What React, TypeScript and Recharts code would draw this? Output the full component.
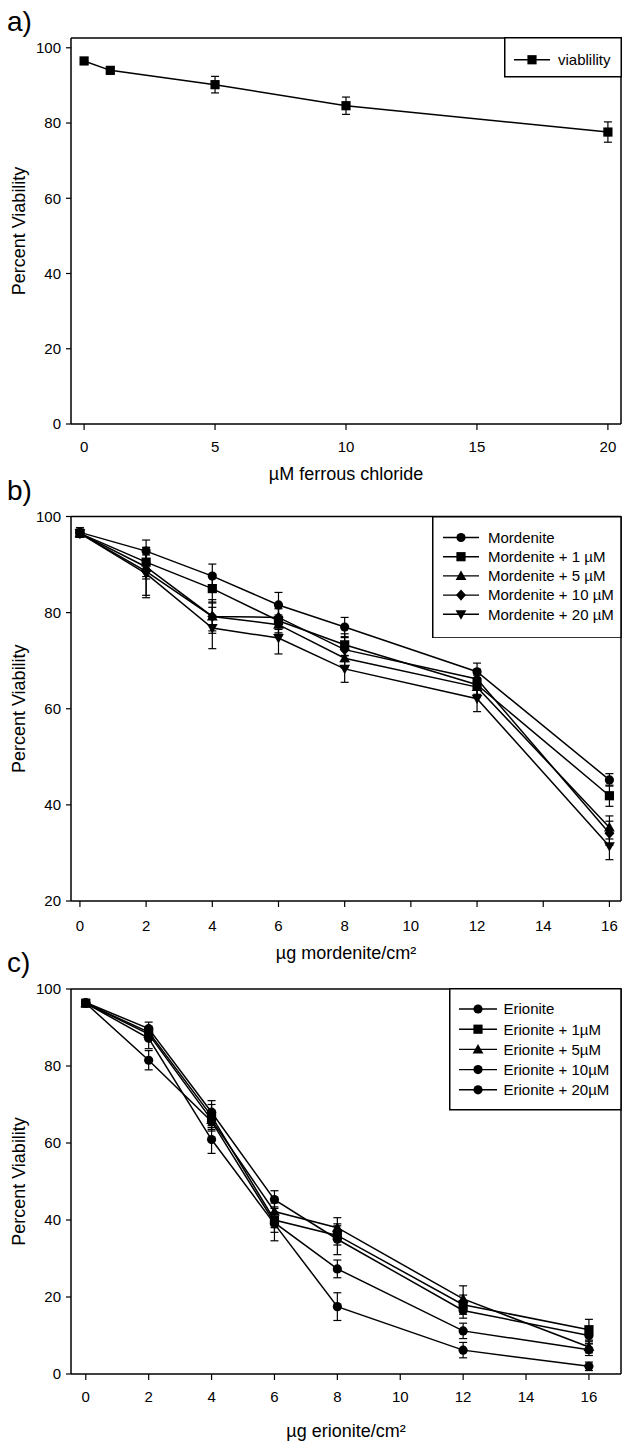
import React from "react";
import { LineChart, Line, XAxis, YAxis, ErrorBar, Legend, Label, ReferenceLine } from "recharts";

const FONT = '"Liberation Sans", Arial, sans-serif';

// a) ferrous chloride alone
const ironDose = [0, 1, 5, 10, 20];
const ironViability = [96.5, 94.0, 90.2, 84.6, 77.6];
const ironErr = [0.9, 0.9, 2.2, 2.3, 2.7];
const ironNames = ["viablility"];
const ironTicks = [0, 5, 10, 15, 20];

// b) and c) share the same fibre doses
const dose = [0, 2, 4, 6, 8, 12, 16];
const doseTicks = [0, 2, 4, 6, 8, 10, 12, 14, 16];
const viabilityTicksB = [20, 40, 60, 80, 100];
const viabilityTicks = [0, 20, 40, 60, 80, 100];

const mordNames = ["Mordenite", "Mordenite + 1 µM", "Mordenite + 5 µM", "Mordenite + 10 µM", "Mordenite + 20 µM"];
const mordenite = [96.7, 92.8, 87.6, 81.6, 77.0, 67.7, 45.2];
const mordenite1 = [96.5, 90.5, 85.0, 78.3, 73.3, 65.0, 41.9];
const mordenite5 = [96.5, 89.5, 79.2, 77.5, 70.5, 64.5, 35.3];
const mordenite10 = [96.5, 88.6, 79.2, 79.0, 72.3, 66.2, 34.1];
const mordenite20 = [96.5, 88.1, 76.8, 74.7, 68.3, 62.1, 31.4];
const mordeniteErr = [1.0, 2.3, 2.5, 2.6, 2.0, 1.8, 1.3];
const mordenite1Err = [0.8, 3.0, 3.0, 2.5, 2.3, 2.0, 2.2];
const mordenite5Err = [0.8, 2.5, 3.0, 2.0, 2.0, 2.0, 2.4];
const mordenite10Err = [0.8, 5.0, 3.5, 2.5, 2.5, 2.0, 2.5];
const mordenite20Err = [0.8, 5.0, 4.3, 3.3, 2.8, 2.7, 2.8];

const eriNames = ["Erionite", "Erionite + 1µM", "Erionite + 5µM", "Erionite + 10µM", "Erionite + 20µM"];
const erionite = [96.5, 89.7, 68.0, 45.3, 35.0, 16.5, 10.0];
const erionite1 = [96.3, 88.8, 67.0, 40.0, 36.0, 18.0, 11.5];
const erionite5 = [96.3, 88.3, 66.0, 42.2, 38.0, 19.5, 7.0];
const erionite10 = [96.3, 81.5, 65.6, 39.3, 27.3, 11.2, 6.3];
const erionite20 = [96.3, 87.2, 60.9, 39.0, 17.5, 6.2, 2.0];
const erioniteErr = [0.8, 1.7, 3.0, 2.3, 4.0, 2.0, 2.0];
const erionite1Err = [0.8, 1.5, 3.0, 2.0, 2.5, 2.5, 2.7];
const erionite5Err = [0.8, 1.5, 2.5, 2.2, 2.6, 3.4, 1.5];
const erionite10Err = [0.8, 2.5, 2.5, 2.5, 2.3, 2.0, 1.5];
const erionite20Err = [0.8, 2.7, 3.6, 4.4, 3.6, 2.0, 1.1];

type Shape = "circle" | "square" | "triangle" | "diamond" | "triangleDown";

function buildRows(xs: number[], series: number[][], errs: number[][]) {
  return xs.map((x, i) => {
    const row: Record<string, number> = { x };
    series.forEach((s, k) => {
      row["v" + k] = s[i];
      row["e" + k] = errs[k][i];
    });
    return row;
  });
}

const ironRows = buildRows(ironDose, [ironViability], [ironErr]);
const mordRows = buildRows(
  dose,
  [mordenite, mordenite1, mordenite5, mordenite10, mordenite20],
  [mordeniteErr, mordenite1Err, mordenite5Err, mordenite10Err, mordenite20Err]
);
const eriRows = buildRows(
  dose,
  [erionite, erionite1, erionite5, erionite10, erionite20],
  [erioniteErr, erionite1Err, erionite5Err, erionite10Err, erionite20Err]
);

function Marker({ cx, cy, shape }: { cx?: number; cy?: number; shape: Shape }) {
  if (cx == null || cy == null) return null;
  const s = 4.6;
  if (shape === "circle") return <circle cx={cx} cy={cy} r={s} fill="#000" />;
  if (shape === "square") return <rect x={cx - s} y={cy - s} width={2 * s} height={2 * s} fill="#000" />;
  if (shape === "diamond")
    return <polygon points={`${cx},${cy - 5.6} ${cx + 5},${cy} ${cx},${cy + 5.6} ${cx - 5},${cy}`} fill="#000" />;
  if (shape === "triangle")
    return <polygon points={`${cx},${cy - 5.4} ${cx + 5.4},${cy + 4} ${cx - 5.4},${cy + 4}`} fill="#000" />;
  return <polygon points={`${cx},${cy + 5.4} ${cx + 5.4},${cy - 4} ${cx - 5.4},${cy - 4}`} fill="#000" />;
}

interface LegendSpec {
  left: number;
  top: number;
  width: number;
  height: number;
  lineX1: number;
  lineX2: number;
  textX: number;
  firstY: number;
  stepY: number;
}

function LegendBox({ payload, names, shapes, spec }: { payload?: any[]; names: string[]; shapes: Shape[]; spec: LegendSpec }) {
  // keep the series order, recharts hands the payload over sorted by name
  const entries = payload && payload.length
    ? payload.map((p) => String(p.value)).sort((a, b) => names.indexOf(a) - names.indexOf(b))
    : names;
  return (
    <svg width={spec.width} height={spec.height} style={{ display: "block" }}>
      <rect x={0.75} y={0.75} width={spec.width - 1.5} height={spec.height - 1.5} fill="#fff" stroke="#000" strokeWidth={1.5} />
      {entries.map((name, i) => {
        const k = Math.max(0, names.indexOf(name));
        const y = spec.firstY + i * spec.stepY;
        const mx = (spec.lineX1 + spec.lineX2) / 2;
        return (
          <g key={name}>
            <line x1={spec.lineX1} x2={spec.lineX2} y1={y} y2={y} stroke="#000" strokeWidth={1.4} />
            <Marker cx={mx} cy={y} shape={shapes[k]} />
            <text x={spec.textX} y={y + 5.3} fontSize={15} fill="#000">
              {name}
            </text>
          </g>
        );
      })}
    </svg>
  );
}

interface PanelProps {
  top: number;
  height: number;
  marginTop: number;
  axisHeight: number;
  tickGap: number;
  titleOffset: number;
  rows: Record<string, number>[];
  names: string[];
  shapes: Shape[];
  xDomain: [number, number];
  xTicks: number[];
  yDomain: [number, number];
  yTicks: number[];
  xTitle: string;
  legend: LegendSpec;
}

function Panel(p: PanelProps) {
  return (
    <div style={{ position: "absolute", left: 0, top: p.top }}>
      <LineChart width={622} height={p.height} data={p.rows} margin={{ top: p.marginTop, right: 1, bottom: 0, left: 0 }}>
        <XAxis
          dataKey="x"
          type="number"
          domain={p.xDomain}
          ticks={p.xTicks}
          interval={0}
          allowDataOverflow
          height={p.axisHeight}
          tickSize={6}
          tickMargin={p.tickGap}
          tick={{ fontSize: 15, fill: "#000" }}
          tickLine={{ stroke: "#000", strokeWidth: 1.2 }}
          axisLine={{ stroke: "#000", strokeWidth: 1.5 }}
        >
          <Label value={p.xTitle} position="insideBottom" offset={p.titleOffset} fontSize={18} fill="#000" />
        </XAxis>
        <YAxis
          type="number"
          domain={p.yDomain}
          ticks={p.yTicks}
          interval={0}
          allowDataOverflow
          width={71}
          tickSize={5}
          tickMargin={5}
          tick={{ fontSize: 15, fill: "#000" }}
          tickLine={{ stroke: "#000", strokeWidth: 1.2 }}
          axisLine={{ stroke: "#000", strokeWidth: 1.5 }}
        >
          <Label value="Percent Viability" angle={-90} position="center" dx={-17} fontSize={18} fill="#000" />
        </YAxis>
        <ReferenceLine y={p.yDomain[1]} stroke="#000" strokeWidth={1.5} />
        <ReferenceLine x={p.xDomain[1]} stroke="#000" strokeWidth={1.5} />
        <Legend
          layout="vertical"
          align="center"
          verticalAlign="middle"
          wrapperStyle={{ left: p.legend.left, top: p.legend.top, width: p.legend.width, height: p.legend.height }}
          content={(props: any) => <LegendBox payload={props.payload} names={p.names} shapes={p.shapes} spec={p.legend} />}
        />
        {p.names.map((name, k) => (
          <Line
            key={name}
            name={name}
            dataKey={"v" + k}
            stroke="#000"
            strokeWidth={1.5}
            isAnimationActive={false}
            activeDot={false}
            dot={(d: any) => <Marker key={name + d.index} cx={d.cx} cy={d.cy} shape={p.shapes[k]} />}
          >
            <ErrorBar dataKey={"e" + k} width={4} stroke="#000" strokeWidth={1.2} direction="y" />
          </Line>
        ))}
      </LineChart>
    </div>
  );
}

const panelLabel: React.CSSProperties = { position: "absolute", left: 7, fontSize: 28, lineHeight: "28px" };

export default function App() {
  return (
    <div
      style={{
        position: "absolute",
        left: 0,
        top: 0,
        width: 622,
        height: 1445,
        overflow: "hidden",
        fontFamily: FONT,
        color: "#000",
        background: "#fff",
      }}
    >
      <Panel
        top={0}
        height={490}
        marginTop={38}
        axisHeight={66}
        tickGap={11}
        titleOffset={10}
        rows={ironRows}
        names={ironNames}
        shapes={["square"]}
        xDomain={[-0.5, 20.5]}
        xTicks={ironTicks}
        yDomain={[0, 102.6]}
        yTicks={viabilityTicks}
        xTitle="µM ferrous chloride"
        legend={{ left: 504, top: 37.25, width: 118, height: 40.5, lineX1: 10, lineX2: 46, textX: 54, firstY: 22.75, stepY: 20 }}
      />
      <Panel
        top={480}
        height={490}
        marginTop={36.5}
        axisHeight={69}
        tickGap={13}
        titleOffset={11}
        rows={mordRows}
        names={mordNames}
        shapes={["circle", "square", "triangle", "diamond", "triangleDown"]}
        xDomain={[-0.27, 16.35]}
        xTicks={doseTicks}
        yDomain={[20, 100]}
        yTicks={viabilityTicksB}
        xTitle="µg mordenite/cm²"
        legend={{ left: 432, top: 35.75, width: 189.75, height: 122.7, lineX1: 11, lineX2: 47, textX: 56, firstY: 21.5, stepY: 19.2 }}
      />
      <Panel
        top={950}
        height={495}
        marginTop={39}
        axisHeight={71}
        tickGap={11}
        titleOffset={8}
        rows={eriRows}
        names={eriNames}
        shapes={["circle", "square", "triangle", "circle", "circle"]}
        xDomain={[-0.47, 17.02]}
        xTicks={doseTicks}
        yDomain={[0, 100]}
        yTicks={viabilityTicks}
        xTitle="µg erionite/cm²"
        legend={{ left: 449, top: 38.25, width: 172.75, height: 122.5, lineX1: 10, lineX2: 48, textX: 54.5, firstY: 21, stepY: 20.2 }}
      />
      <div style={{ ...panelLabel, top: 8 }}>a)</div>
      <div style={{ ...panelLabel, top: 477 }}>b)</div>
      <div style={{ ...panelLabel, top: 949 }}>c)</div>
    </div>
  );
}
